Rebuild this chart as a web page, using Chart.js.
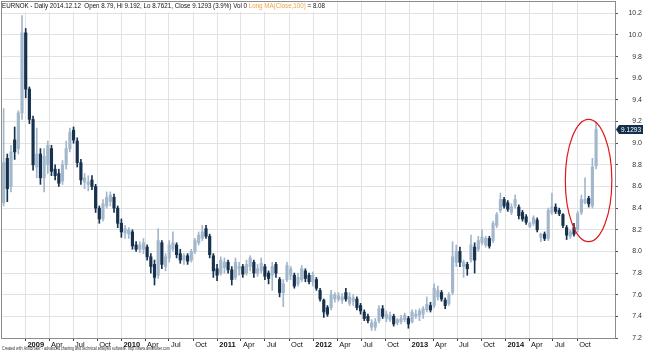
<!DOCTYPE html>
<html>
<head>
<meta charset="utf-8">
<script src="https://cdn.jsdelivr.net/npm/chart.js@4.4.1/dist/chart.umd.min.js"></script>
<style>
  html, body { margin: 0; padding: 0; background: #fff; }
</style>
</head>
<body>
<canvas id="chart" width="645" height="351"></canvas>
<script>
// EURNOK, two-week candles, last one = 2014.12.12
const lastDate = Date.UTC(2014, 11, 12);
const stepDays = 14;

const opens = [
  8.28,8.45,8.86,8.60,9.03,8.95,9.28,10.02,9.50,9.22,
  8.78,8.90,8.68,8.80,8.95,8.76,8.72,8.65,8.80,8.95,
  9.12,9.02,8.82,8.64,8.62,8.66,8.60,8.40,8.30,8.42,
  8.46,8.50,8.40,8.26,8.17,8.16,8.18,8.06,8.02,8.02,
  8.04,7.95,7.88,7.78,8.08,7.86,7.94,8.02,8.06,7.98,
  7.92,7.96,7.92,8.00,8.08,8.12,8.21,8.14,7.96,7.84,
  7.80,7.85,7.90,7.83,7.76,7.84,7.86,7.80,7.86,7.90,
  7.80,7.82,7.86,7.80,7.78,7.88,7.74,7.62,7.74,7.78,
  7.78,7.70,7.74,7.82,7.78,7.72,7.74,7.64,7.55,7.48,
  7.48,7.56,7.56,7.55,7.62,7.52,7.54,7.56,7.50,7.44,
  7.40,7.30,7.30,7.36,7.47,7.38,7.37,7.40,7.34,7.35,
  7.37,7.38,7.35,7.40,7.41,7.42,7.46,7.50,7.50,7.58,
  7.62,7.55,7.52,7.62,7.90,8.00,7.86,7.88,7.92,8.04,
  8.02,8.08,8.06,8.12,8.10,8.24,8.38,8.48,8.45,8.36,
  8.42,8.41,8.36,8.32,8.23,8.26,8.29,8.13,8.16,8.12,
  8.36,8.41,8.38,8.34,8.22,8.14,8.22,8.20,8.36,8.45,
  8.49,8.42,8.79
];
const highs = [
  8.48,9.32,8.90,8.98,9.15,9.30,10.18,10.06,9.52,9.25,
  9.14,8.95,8.95,9.02,8.98,8.80,8.76,8.84,9.02,9.14,
  9.15,9.05,8.85,8.72,8.70,8.70,8.62,8.42,8.48,8.55,
  8.55,8.53,8.42,8.30,8.24,8.22,8.20,8.09,8.09,8.12,
  8.06,7.98,7.92,8.21,8.10,7.98,8.10,8.18,8.08,8.02,
  7.98,7.98,8.02,8.12,8.18,8.24,8.24,8.16,7.98,7.88,
  7.95,7.94,7.92,7.86,7.94,7.90,7.88,7.92,7.96,7.92,
  7.88,7.94,7.88,7.82,7.90,7.90,7.76,7.74,7.90,7.86,
  7.80,7.80,7.87,7.84,7.80,7.81,7.76,7.66,7.56,7.50,
  7.64,7.62,7.62,7.61,7.66,7.62,7.60,7.58,7.52,7.46,
  7.42,7.37,7.38,7.50,7.50,7.45,7.44,7.42,7.38,7.41,
  7.43,7.40,7.46,7.46,7.47,7.49,7.58,7.53,7.70,7.68,
  7.64,7.57,7.62,8.09,8.06,8.04,7.92,7.90,8.15,8.08,
  8.14,8.20,8.14,8.14,8.28,8.36,8.54,8.50,8.47,8.44,
  8.52,8.43,8.38,8.34,8.27,8.33,8.31,8.17,8.18,8.40,
  8.54,8.44,8.40,8.35,8.24,8.20,8.26,8.37,8.52,8.68,
  8.51,8.86,9.192
];
const lows = [
  8.24,8.42,8.46,8.55,8.85,8.90,9.22,9.42,9.18,8.75,
  8.68,8.62,8.55,8.72,8.70,8.66,8.60,8.62,8.76,8.92,
  9.00,8.78,8.62,8.58,8.56,8.57,8.36,8.26,8.28,8.40,
  8.42,8.36,8.22,8.13,8.12,8.12,8.02,8.00,7.99,7.98,
  7.92,7.80,7.69,7.75,7.84,7.82,7.90,8.00,7.94,7.89,
  7.88,7.88,7.90,7.98,8.06,8.10,8.12,7.94,7.76,7.73,
  7.78,7.80,7.80,7.69,7.74,7.78,7.76,7.78,7.82,7.76,
  7.77,7.80,7.74,7.70,7.64,7.76,7.58,7.49,7.72,7.74,
  7.66,7.68,7.72,7.72,7.70,7.68,7.64,7.54,7.39,7.40,
  7.46,7.53,7.54,7.52,7.54,7.50,7.50,7.46,7.42,7.36,
  7.34,7.27,7.27,7.34,7.38,7.35,7.35,7.31,7.32,7.33,
  7.35,7.29,7.34,7.38,7.36,7.38,7.44,7.44,7.48,7.55,
  7.54,7.47,7.50,7.60,7.86,7.86,7.76,7.78,7.90,7.80,
  8.00,8.06,8.04,8.03,8.08,8.22,8.36,8.40,8.37,8.34,
  8.40,8.30,8.28,8.25,8.22,8.24,8.18,8.09,8.10,8.10,
  8.34,8.35,8.33,8.22,8.11,8.12,8.14,8.18,8.34,8.44,
  8.41,8.40,8.7621
];
const closes = [
  8.45,8.82,8.58,8.92,8.92,9.28,10.02,9.50,9.22,8.80,
  8.90,8.68,8.88,8.98,8.74,8.70,8.63,8.80,8.95,9.10,
  9.03,8.82,8.66,8.68,8.64,8.60,8.40,8.30,8.44,8.50,
  8.52,8.40,8.26,8.18,8.21,8.20,8.05,8.02,8.06,8.08,
  7.95,7.86,7.76,8.10,7.88,7.95,8.06,8.08,7.97,7.92,
  7.96,7.91,8.00,8.10,8.15,8.18,8.14,7.97,7.82,7.78,
  7.92,7.90,7.83,7.74,7.90,7.86,7.79,7.88,7.94,7.80,
  7.84,7.89,7.77,7.75,7.86,7.80,7.62,7.70,7.87,7.84,
  7.68,7.76,7.84,7.75,7.72,7.78,7.66,7.56,7.44,7.42,
  7.60,7.60,7.59,7.58,7.56,7.58,7.57,7.48,7.45,7.38,
  7.36,7.34,7.35,7.47,7.40,7.42,7.41,7.33,7.37,7.38,
  7.41,7.33,7.44,7.42,7.45,7.47,7.51,7.46,7.66,7.64,
  7.56,7.50,7.60,7.95,8.00,7.90,7.90,7.84,8.06,7.92,
  8.10,8.13,8.12,8.05,8.26,8.34,8.48,8.42,8.39,8.41,
  8.48,8.33,8.30,8.27,8.26,8.31,8.20,8.16,8.12,8.38,
  8.41,8.37,8.35,8.24,8.15,8.18,8.16,8.35,8.48,8.48,
  8.44,8.78,9.1293
];

const tickDates = [
  '2009-01-01','2009-04-01','2009-07-01','2009-10-01',
  '2010-01-01','2010-04-01','2010-07-01','2010-10-01',
  '2011-01-01','2011-04-01','2011-07-01','2011-10-01',
  '2012-01-01','2012-04-01','2012-07-01','2012-10-01',
  '2013-01-01','2013-04-01','2013-07-01','2013-10-01',
  '2014-01-01','2014-04-01','2014-07-01','2014-10-01'
];
const tickLabels = [
  '2009','Apr','Jul','Oct','2010','Apr','Jul','Oct',
  '2011','Apr','Jul','Oct','2012','Apr','Jul','Oct',
  '2013','Apr','Jul','Oct','2014','Apr','Jul','Oct'
];
const yTicks = [7.2,7.4,7.6,7.8,8.0,8.2,8.4,8.6,8.8,9.0,9.2,9.4,9.6,9.8,10.0,10.2];

const titleParts = [
  { text: 'EURNOK - Daily 2014.12.12  Open 8.79, Hi 9.192, Lo 8.7621, Close 9.1293 (3.9%) Vol 0 ', color: '#111' },
  { text: 'Long MA(Close,100)', color: '#f0a040' },
  { text: ' = 8.08', color: '#111' }
];
const creditText = 'Created with AmiBroker - advanced charting and technical analysis software. http://www.amibroker.com';

// the red ring drawn round the last rally
const ringFrom = '2014-08-17', ringTo = '2015-02-10';
const ringLow = 8.09, ringHigh = 9.22;

const UP = '#a2b7cb';
const DOWN = '#17324f';
const FONT = "'Liberation Sans', Arial, sans-serif";

const DAY = 86400000;
const dates = closes.map((_, i) => lastDate - (closes.length - 1 - i) * stepDays * DAY);
const colors = closes.map((c, i) => c >= opens[i] ? UP : DOWN);

// draws text squeezed sideways to a given width (the picture uses a narrow font)
function squeezedText(ctx, parts, x, y, width) {
  const full = parts.reduce((s, p) => s + ctx.measureText(p.text).width, 0);
  const k = Math.min(1, width / full);
  ctx.save();
  ctx.translate(x, y);
  ctx.scale(k, 1);
  let tx = 0;
  parts.forEach(p => {
    ctx.fillStyle = p.color;
    ctx.fillText(p.text, tx, 0);
    tx += ctx.measureText(p.text).width;
  });
  ctx.restore();
  return full * k;
}

// ===============================================
// PLUGIN: frame, title, credit, price tag, ring
// ===============================================
const decorations = {
  id: 'decorations',
  afterDatasetsDraw(chart) {
    const { ctx, scales: { x, y } } = chart;

    // ring
    const x1 = x.getPixelForValue(Date.parse(ringFrom));
    const x2 = x.getPixelForValue(Date.parse(ringTo));
    const y1 = y.getPixelForValue(ringHigh);
    const y2 = y.getPixelForValue(ringLow);
    ctx.save();
    ctx.strokeStyle = '#e01818';
    ctx.lineWidth = 1.2;
    ctx.beginPath();
    ctx.ellipse((x1 + x2) / 2, (y1 + y2) / 2, (x2 - x1) / 2, (y2 - y1) / 2, 0, 0, Math.PI * 2);
    ctx.stroke();
    ctx.restore();
  },
  afterDraw(chart) {
    const { ctx, chartArea: a, scales: { y } } = chart;
    ctx.save();

    // frame
    ctx.strokeStyle = '#8c8c8c';
    ctx.lineWidth = 1;
    ctx.strokeRect(a.left + 0.5, a.top + 0.5, a.right - a.left, a.bottom - a.top);

    // title with white back
    ctx.font = '7px ' + FONT;
    ctx.textBaseline = 'middle';
    ctx.fillStyle = '#fff';
    ctx.fillRect(a.left + 1, a.top + 1, 326, 10);
    squeezedText(ctx, titleParts, 2, 6, 323);

    // credit line
    ctx.font = '4.5px ' + FONT;
    squeezedText(ctx, [{ text: creditText, color: '#333' }], 2, 348.5, 168);

    // last price tag
    const last = closes[closes.length - 1];
    const py = Math.round(y.getPixelForValue(last)) + 0.5;
    ctx.fillStyle = '#13304e';
    ctx.beginPath();
    ctx.moveTo(a.right + 1, py);
    ctx.lineTo(a.right + 4, py - 4.5);
    ctx.lineTo(643, py - 4.5);
    ctx.lineTo(643, py + 4.5);
    ctx.lineTo(a.right + 4, py + 4.5);
    ctx.closePath();
    ctx.fill();
    ctx.fillStyle = '#fff';
    ctx.font = '6.5px ' + FONT;
    ctx.textAlign = 'right';
    ctx.fillText(last.toFixed(4), 641, py + 0.5);

    ctx.restore();
  }
};

new Chart(document.getElementById('chart'), {
  type: 'bar',
  data: {
    datasets: [
      {
        label: 'wick',
        data: dates.map((d, i) => ({ x: d, y: [lows[i], highs[i]] })),
        backgroundColor: colors,
        barThickness: 1,
        grouped: false,
        borderSkipped: false,
        order: 2
      },
      {
        label: 'body',
        data: dates.map((d, i) => ({ x: d, y: [opens[i], closes[i]] })),
        backgroundColor: colors,
        barThickness: 2.5,
        grouped: false,
        borderSkipped: false,
        order: 1
      }
    ]
  },
  options: {
    responsive: false,
    animation: false,
    devicePixelRatio: 1,
    layout: { padding: { top: 1, left: 1, right: 3, bottom: 0 } },
    plugins: {
      legend: { display: false },
      tooltip: { enabled: false },
      title: { display: false }
    },
    scales: {
      x: {
        type: 'linear',
        min: Date.UTC(2008, 8, 30),
        max: Date.UTC(2015, 1, 22),
        offset: false,
        afterBuildTicks: s => { s.ticks = tickDates.map(d => ({ value: Date.parse(d) })); },
        afterFit: s => { s.height = 13; s.paddingLeft = 0; s.paddingRight = 0; },
        grid: { offset: false, color: '#e2e2e2', tickLength: 3, tickColor: '#444' },
        border: { color: '#8c8c8c' },
        ticks: {
          autoSkip: false,
          maxRotation: 0,
          align: 'start',
          labelOffset: 2,
          padding: -1,
          color: '#111',
          font: c => ({ family: FONT, size: 7.5, weight: /^\d/.test(tickLabels[c.index] || '') ? 'bold' : 'normal' }),
          callback: (v, i) => tickLabels[i]
        }
      },
      y: {
        position: 'right',
        min: 7.2,
        max: 10.314,
        afterBuildTicks: s => { s.ticks = yTicks.map(v => ({ value: v })); },
        // keep the label padding from pushing the plot area in
        afterFit: s => { s.width = 27; s.paddingTop = 0; s.paddingBottom = 0; },
        grid: { color: '#e2e2e2', tickLength: 3, tickColor: '#555' },
        border: { color: '#8c8c8c' },
        ticks: {
          crossAlign: 'far',
          padding: 10,
          color: '#333',
          font: { family: FONT, size: 7 },
          callback: v => v.toFixed(1)
        }
      }
    }
  },
  plugins: [decorations]
});
</script>
</body>
</html>
